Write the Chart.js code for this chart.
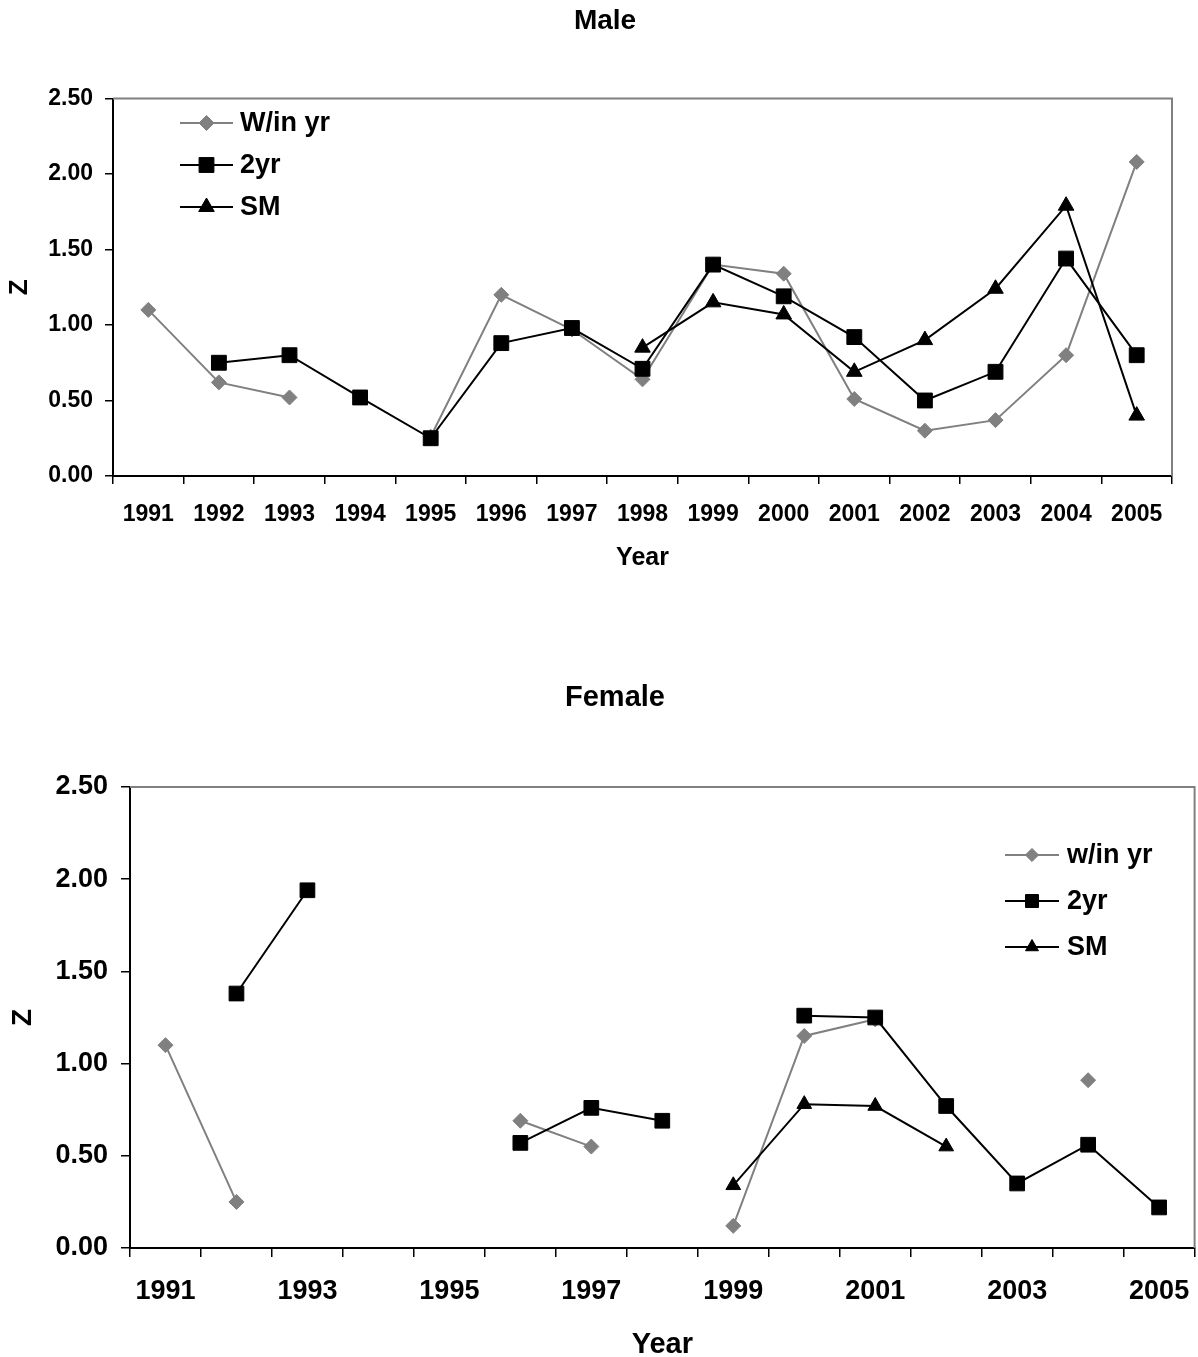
<!DOCTYPE html>
<html>
<head>
<meta charset="utf-8">
<title>Z by Year</title>
<script src="https://cdn.jsdelivr.net/npm/chart.js@4/dist/chart.umd.min.js"></script>
<style>
  html, body { margin: 0; padding: 0; background: #fff; overflow: hidden; }
  .panel { position: absolute; left: 0; }
  #malePanel { top: 0; width: 1198px; height: 600px; }
  /* a little wider: the last year label reserves some room on the right */
  #femalePanel { top: 600px; width: 1206px; height: 757px; }
</style>
</head>
<body>
<div class="panel" id="malePanel"><canvas id="maleChart"></canvas></div>
<div class="panel" id="femalePanel"><canvas id="femaleChart"></canvas></div>

<script>
// years on the category axis
const years = ['1991', '1992', '1993', '1994', '1995', '1996', '1997', '1998',
               '1999', '2000', '2001', '2002', '2003', '2004', '2005'];
const yTicks = [0, 0.5, 1.0, 1.5, 2.0, 2.5];

// male series (null = no value that year)
const maleWithinYr = [1.10, 0.62, 0.52, null, 0.26, 1.20, 0.97, 0.64, 1.40, 1.34, 0.51, 0.30, 0.37, 0.80, 2.08];
const male2yr      = [null, 0.75, 0.80, 0.52, 0.25, 0.88, 0.98, 0.71, 1.40, 1.19, 0.92, 0.50, 0.69, 1.44, 0.80];
const maleSM       = [null, null, null, null, null, null, null, 0.85, 1.15, 1.07, 0.69, 0.90, 1.24, 1.79, 0.40];

// female series
const femaleWithinYr = [1.10, 0.25, null, null, null, 0.69, 0.55, null, 0.12, 1.15, 1.24, null, null, 0.91, null];
const female2yr      = [null, 1.38, 1.94, null, null, 0.57, 0.76, 0.69, null, 1.26, 1.25, 0.77, 0.35, 0.56, 0.22];
const femaleSM       = [null, null, null, null, null, null, null, null, 0.34, 0.78, 0.77, 0.55, null, null, null];

const FONT = "'Liberation Sans', Arial, Helvetica, sans-serif";
const GREY = '#808080';

// grey frame on the top and right of the plot area
const framePlugin = {
  id: 'frame',
  afterDraw(chart) {
    const { ctx, chartArea: a } = chart;
    ctx.save();
    ctx.strokeStyle = GREY;
    ctx.lineWidth = 2;
    ctx.beginPath();
    ctx.moveTo(a.left, a.top);
    ctx.lineTo(a.right, a.top);
    ctx.lineTo(a.right, a.bottom);
    ctx.stroke();
    ctx.restore();
  }
};

// chart heading, placed by its own centre point
const headingPlugin = {
  id: 'heading',
  afterDraw(chart, args, opts) {
    const { ctx } = chart;
    ctx.save();
    ctx.font = 'bold ' + opts.size + 'px ' + FONT;
    ctx.fillStyle = '#000';
    ctx.textAlign = 'center';
    ctx.textBaseline = 'middle';
    ctx.fillText(opts.text, opts.x, opts.y);
    ctx.restore();
  }
};

// legend drawn inside the plot: short line with the marker on it, then the label
const insideLegend = {
  id: 'insideLegend',
  afterDraw(chart, args, opts) {
    const { ctx } = chart;
    ctx.save();
    ctx.font = 'bold ' + opts.fontSize + 'px ' + FONT;
    ctx.textBaseline = 'middle';
    ctx.textAlign = 'left';
    chart.data.datasets.forEach((ds, i) => {
      const y = opts.y + i * opts.gap;
      const x0 = opts.x, x1 = opts.x + opts.lineLen;
      ctx.strokeStyle = ds.borderColor;
      ctx.lineWidth = ds.borderWidth;
      ctx.beginPath();
      ctx.moveTo(x0, y);
      ctx.lineTo(x1, y);
      ctx.stroke();
      ctx.fillStyle = ds.pointBackgroundColor;
      ctx.strokeStyle = ds.pointBorderColor;
      ctx.lineWidth = 1;
      Chart.helpers.drawPoint(ctx, {
        pointStyle: ds.pointStyle,
        radius: ds.pointRadius * opts.markerScale,
        rotation: 0,
        borderWidth: 1
      }, (x0 + x1) / 2, y);
      ctx.fillStyle = '#000';
      ctx.fillText(ds.label, x1 + opts.textGap, y + 1);
    });
    ctx.restore();
  }
};

function series(label, data, color, style, radius, order) {
  return {
    label, data, order,
    borderColor: color,
    backgroundColor: color,
    borderWidth: 2,
    pointStyle: style,
    pointRadius: radius,
    pointHoverRadius: radius,
    pointBackgroundColor: color,
    pointBorderColor: color,
    pointBorderWidth: 1,
    tension: 0,
    spanGaps: false
  };
}

function makeChart(id, cfg) {
  return new Chart(document.getElementById(id), {
    type: 'line',
    data: { labels: years, datasets: cfg.datasets },
    options: {
      responsive: true,
      maintainAspectRatio: false,
      animation: false,
      events: [],
      layout: { padding: { left: 0, right: cfg.rightPad, top: cfg.topPad, bottom: 0 } },
      plugins: {
        legend: { display: false },
        tooltip: { enabled: false },
        title: { display: false },
        heading: cfg.heading,
        insideLegend: cfg.legend
      },
      scales: {
        x: {
          type: 'category',
          offset: true,
          grid: { display: true, offset: true, drawOnChartArea: false, color: '#000', lineWidth: 1.5, tickLength: cfg.tickLen },
          border: { display: true, color: '#000', width: 2 },
          ticks: {
            autoSkip: false,
            maxRotation: 0,
            color: '#000',
            padding: cfg.xTickPad,
            font: { family: FONT, size: cfg.tickSize, weight: 'bold' },
            callback: function (v, i) { return i % cfg.labelStep === 0 ? this.getLabelForValue(v) : ''; }
          },
          title: {
            display: true, text: 'Year', color: '#000',
            font: { family: FONT, size: cfg.xTitleSize, weight: 'bold', lineHeight: 1 },
            padding: { top: 0, bottom: cfg.xTitleBottom }
          },
          afterFit: s => {
            s.height = cfg.xHeight;
            s.paddingLeft = 0;
            s.paddingRight = 0;
          }
        },
        y: {
          min: 0, max: 2.5,
          afterBuildTicks: s => { s.ticks = yTicks.map(v => ({ value: v })); },
          grid: { display: true, drawOnChartArea: false, color: '#000', lineWidth: 1.5, tickLength: cfg.tickLen },
          border: { display: true, color: '#000', width: 2 },
          ticks: {
            color: '#000',
            padding: cfg.yTickPad,
            font: { family: FONT, size: cfg.tickSize, weight: 'bold' },
            callback: v => v.toFixed(2)
          },
          title: {
            display: true, text: 'Z', color: '#000',
            font: { family: FONT, size: cfg.yTitleSize, weight: 'bold', lineHeight: 1.2 },
            padding: { top: cfg.yTitleTop, bottom: 0 }
          },
          afterFit: s => { s.width = cfg.yWidth; }
        }
      }
    },
    plugins: [framePlugin, headingPlugin, insideLegend]
  });
}

makeChart('maleChart', {
  heading: { text: 'Male', x: 605, y: 21, size: 28 },
  topPad: 98.5,
  rightPad: 26,
  yWidth: 113,
  xHeight: 124,
  tickLen: 8,
  tickSize: 23,
  xTickPad: 17,
  yTickPad: 12,
  labelStep: 1,
  xTitleSize: 25,
  xTitleBottom: 29,
  yTitleSize: 26,
  yTitleTop: 4,
  legend: { x: 180, y: 123, gap: 42, lineLen: 53, textGap: 7, fontSize: 27, markerScale: 1 },
  datasets: [
    series('W/in yr', maleWithinYr, GREY, 'rectRot', 7.5, 3),
    series('2yr', male2yr, '#000', 'rect', 10.5, 2),
    series('SM', maleSM, '#000', 'triangle', 9, 1)
  ]
});

makeChart('femaleChart', {
  heading: { text: 'Female', x: 615, y: 98, size: 29 },
  topPad: 187,
  rightPad: 4,
  yWidth: 130,
  xHeight: 109,
  tickLen: 9,
  tickSize: 27,
  xTickPad: 18,
  yTickPad: 13,
  labelStep: 2,
  xTitleSize: 29,
  xTitleBottom: -2,
  yTitleSize: 28,
  yTitleTop: 6,
  legend: { x: 1005, y: 255, gap: 46, lineLen: 54, textGap: 8, fontSize: 27, markerScale: 0.88 },
  datasets: [
    series('w/in yr', femaleWithinYr, GREY, 'rectRot', 7.5, 3),
    series('2yr', female2yr, '#000', 'rect', 10.4, 2),
    series('SM', femaleSM, '#000', 'triangle', 8.5, 1)
  ]
});
</script>
</body>
</html>
